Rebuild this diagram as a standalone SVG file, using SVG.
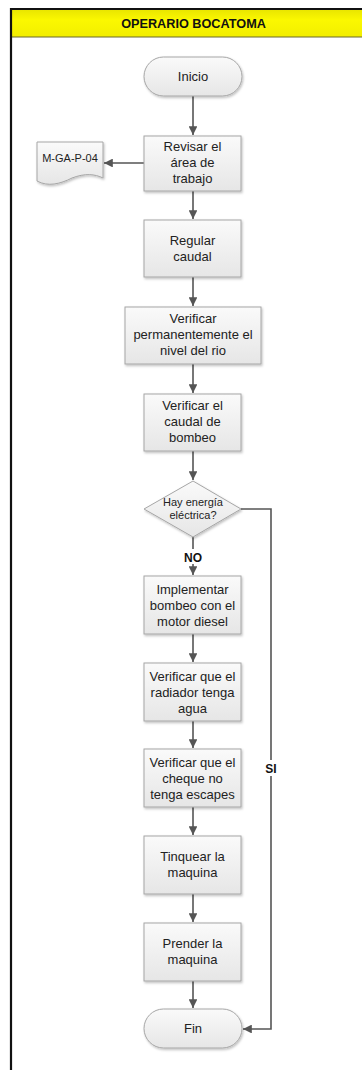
<svg xmlns="http://www.w3.org/2000/svg" width="362" height="1070" viewBox="0 0 362 1070">
<style>
.box{fill:url(#gBox);stroke:#a6a6a6;stroke-width:1;filter:url(#sh)}
.t{font-family:"Liberation Sans",Arial,sans-serif;font-size:13px;fill:#222;text-anchor:middle}
.ts{font-family:"Liberation Sans",Arial,sans-serif;font-size:11px;fill:#222;text-anchor:middle}
.lb{font-family:"Liberation Sans",Arial,sans-serif;font-size:12px;font-weight:bold;fill:#111;text-anchor:middle}
.c{fill:none;stroke:#555;stroke-width:1.6}
</style>
<defs>
<linearGradient id="gBox" x1="0" y1="0" x2="0" y2="1">
<stop offset="0" stop-color="#fafafa"/>
<stop offset="1" stop-color="#e6e6e6"/>
</linearGradient>
<linearGradient id="gHead" x1="0" y1="0" x2="0" y2="1">
<stop offset="0" stop-color="#e8e400"/>
<stop offset="0.4" stop-color="#fbf800"/>
<stop offset="1" stop-color="#f2ee00"/>
</linearGradient>
<filter id="sh" x="-10%" y="-10%" width="130%" height="140%">
<feDropShadow dx="1" dy="1.5" stdDeviation="1" flood-color="#000" flood-opacity="0.25"/>
</filter>
<marker id="ah" viewBox="0 0 10 10" refX="10" refY="5" markerWidth="5.5" markerHeight="5.5" orient="auto" markerUnits="strokeWidth">
<path d="M0,0 L10,5 L0,10 Z" fill="#555"/>
</marker>
</defs>
<rect x="0" y="0" width="362" height="1070" fill="#fff"/>
<g id="frame">
<rect x="11" y="9" width="360" height="28" fill="url(#gHead)"/>
<line x1="11" y1="37" x2="362" y2="37" stroke="#6b6a2a" stroke-width="1.2"/>
<line x1="11" y1="9" x2="362" y2="9" stroke="#111" stroke-width="2"/>
<line x1="11" y1="8" x2="11" y2="1070" stroke="#111" stroke-width="2.2"/>
<text x="193.5" y="27.5" font-family="Liberation Sans,Arial,sans-serif" font-size="12.7" font-weight="bold" fill="#111" text-anchor="middle">OPERARIO BOCATOMA</text>
</g>
<g id="connectors">
<line class="c" x1="193" y1="96" x2="193" y2="135" marker-end="url(#ah)"/>
<line class="c" x1="144" y1="163" x2="104" y2="163" marker-end="url(#ah)"/>
<line class="c" x1="193" y1="191" x2="193" y2="219" marker-end="url(#ah)"/>
<line class="c" x1="193" y1="277" x2="193" y2="306" marker-end="url(#ah)"/>
<line class="c" x1="193" y1="364" x2="193" y2="393" marker-end="url(#ah)"/>
<line class="c" x1="193" y1="451" x2="193" y2="480" marker-end="url(#ah)"/>
<line class="c" x1="193" y1="537" x2="193" y2="575" marker-end="url(#ah)"/>
<line class="c" x1="193" y1="634" x2="193" y2="662" marker-end="url(#ah)"/>
<line class="c" x1="193" y1="721" x2="193" y2="748" marker-end="url(#ah)"/>
<line class="c" x1="193" y1="807" x2="193" y2="835" marker-end="url(#ah)"/>
<line class="c" x1="193" y1="894" x2="193" y2="922" marker-end="url(#ah)"/>
<line class="c" x1="193" y1="981" x2="193" y2="1008" marker-end="url(#ah)"/>
<polyline class="c" points="241,509 271,509 271,1029 243,1029" marker-end="url(#ah)"/>
<rect x="182" y="549" width="22" height="15" fill="#fff"/>
<text class="lb" x="193" y="561.5">NO</text>
<rect x="264" y="760" width="14" height="16" fill="#fff"/>
<text class="lb" x="271" y="772.5">SI</text>
</g>
<g id="inicio">
<rect class="box" x="144" y="57" width="98" height="39" rx="19.5" ry="19.5"/>
<text class="t" x="193" y="81">Inicio</text>
</g>
<g id="doc">
<path class="box" d="M37,142 H103 V178 C95,174 85,173 72,178 C60,184 48,187 37,181 Z"/>
<text class="ts" x="70" y="161.5">M-GA-P-04</text>
</g>
<g id="revisar">
<rect class="box" x="144" y="136" width="97" height="55"/>
<text class="t" x="192.5" y="151">Revisar el</text>
<text class="t" x="192.5" y="167">área de</text>
<text class="t" x="192.5" y="183">trabajo</text>
</g>
<g id="regular">
<rect class="box" x="144" y="220" width="97" height="57"/>
<text class="t" x="192.5" y="245">Regular</text>
<text class="t" x="192.5" y="261">caudal</text>
</g>
<g id="nivel">
<rect class="box" x="125" y="307" width="136" height="57"/>
<text class="t" x="193" y="323">Verificar</text>
<text class="t" x="193" y="339">permanentemente el</text>
<text class="t" x="193" y="355">nivel del rio</text>
</g>
<g id="bombeo">
<rect class="box" x="144" y="394" width="97" height="57"/>
<text class="t" x="192.5" y="410">Verificar el</text>
<text class="t" x="192.5" y="426">caudal de</text>
<text class="t" x="192.5" y="442">bombeo</text>
</g>
<g id="decision">
<polygon class="box" points="193,481 241,509 193,537 144,509"/>
<text class="ts" x="193" y="506">Hay energía</text>
<text class="ts" x="193" y="519">eléctrica?</text>
</g>
<g id="implementar">
<rect class="box" x="144" y="576" width="97" height="58"/>
<text class="t" x="192.5" y="594">Implementar</text>
<text class="t" x="192.5" y="610">bombeo con el</text>
<text class="t" x="192.5" y="626">motor diesel</text>
</g>
<g id="radiador">
<rect class="box" x="144" y="663" width="97" height="58"/>
<text class="t" x="192.5" y="681">Verificar que el</text>
<text class="t" x="192.5" y="697">radiador tenga</text>
<text class="t" x="192.5" y="713">agua</text>
</g>
<g id="cheque">
<rect class="box" x="144" y="749" width="97" height="58"/>
<text class="t" x="192.5" y="767">Verificar que el</text>
<text class="t" x="192.5" y="783">cheque no</text>
<text class="t" x="192.5" y="799">tenga escapes</text>
</g>
<g id="tinquear">
<rect class="box" x="144" y="836" width="97" height="58"/>
<text class="t" x="192.5" y="861">Tinquear la</text>
<text class="t" x="192.5" y="877">maquina</text>
</g>
<g id="prender">
<rect class="box" x="144" y="923" width="97" height="58"/>
<text class="t" x="192.5" y="948">Prender la</text>
<text class="t" x="192.5" y="964">maquina</text>
</g>
<g id="fin">
<rect class="box" x="144" y="1009" width="98" height="39" rx="19.5" ry="19.5"/>
<text class="t" x="193" y="1033">Fin</text>
</g>
</svg>
